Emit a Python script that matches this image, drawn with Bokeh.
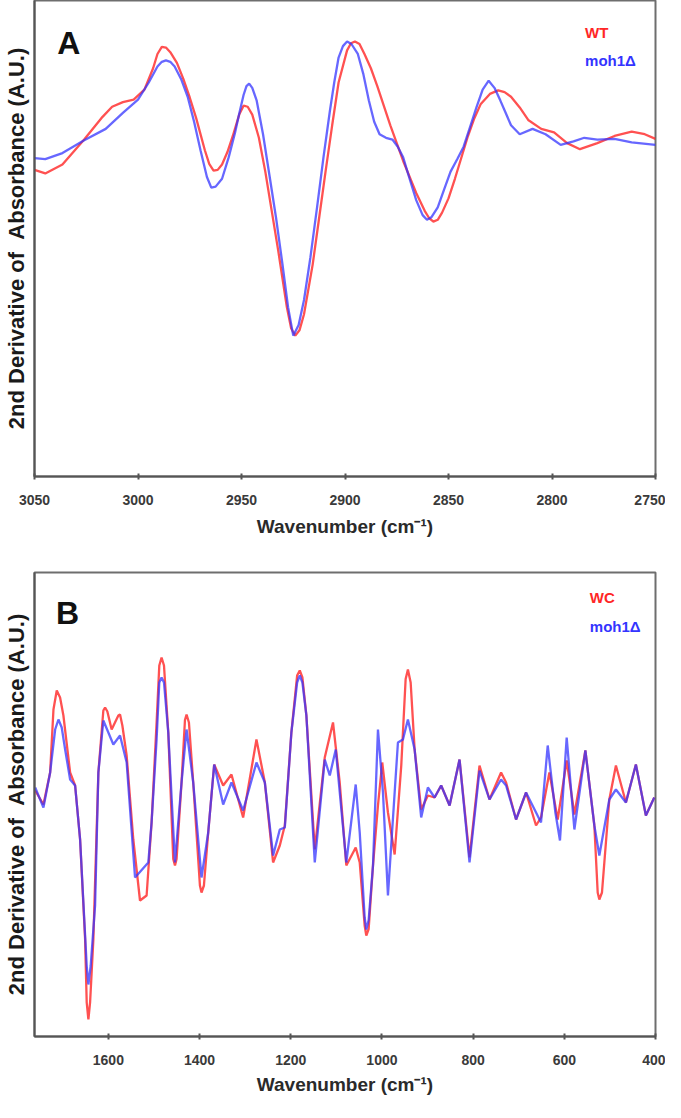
from bokeh.plotting import figure
from bokeh.models import Range1d, FixedTicker, Label
from bokeh.layouts import column
from bokeh.embed import file_html
from bokeh.resources import INLINE

# ---------------- Panel A (C-H stretching region) ----------------
wn_a_wt = [3050.0, 3044.8, 3036.5, 3026.0, 3017.7, 3012.5, 3007.3, 3002.1, 2996.9, 2992.7,
           2990.6, 2988.5, 2986.5, 2984.4, 2981.2, 2978.1, 2975.0, 2971.9, 2967.7, 2965.6,
           2963.5, 2961.5, 2959.4, 2956.8, 2954.2, 2951.1, 2949.0, 2947.0, 2944.8, 2941.6,
           2938.5, 2935.4, 2932.3, 2928.1, 2926.0, 2924.0, 2922.0, 2919.8, 2915.6, 2912.5,
           2909.4, 2906.2, 2903.1, 2899.0, 2897.1, 2895.2, 2893.0, 2890.6, 2887.5, 2884.4,
           2878.1, 2871.9, 2865.6, 2861.5, 2859.4, 2857.3, 2855.2, 2853.1, 2850.0, 2846.9,
           2840.6, 2837.5, 2834.4, 2830.0, 2826.0, 2822.9, 2819.8, 2815.6, 2811.5, 2805.2,
           2799.0, 2792.7, 2786.5, 2778.1, 2769.8, 2761.5, 2755.2, 2750.0]
abs_a_wt = [-0.75, -0.85, -0.60, 0.10, 0.70, 1.02, 1.15, 1.22, 1.50, 2.10,
            2.50, 2.70, 2.68, 2.55, 2.25, 1.80, 1.28, 0.70, -0.20, -0.58,
            -0.77, -0.75, -0.60, -0.25, 0.20, 0.80, 1.05, 1.02, 0.80, 0.15,
            -0.80, -1.90, -3.00, -4.60, -5.20, -5.40, -5.25, -4.80, -3.40, -2.10,
            -0.80, 0.50, 1.70, 2.60, 2.80, 2.85, 2.78, 2.50, 2.10, 1.60,
            0.50, -0.50, -1.40, -1.90, -2.10, -2.20, -2.15, -1.95, -1.55, -1.00,
            0.20, 0.70, 1.10, 1.38, 1.48, 1.43, 1.30, 1.00, 0.65, 0.40,
            0.30, 0.00, -0.17, 0.00, 0.20, 0.32, 0.25, 0.12]

wn_a_moh = [3050.0, 3044.8, 3036.5, 3026.0, 3015.6, 3007.3, 3000.0, 2994.8, 2990.6, 2988.5,
            2986.5, 2984.4, 2982.3, 2979.2, 2976.0, 2972.9, 2969.8, 2966.7, 2964.6, 2962.5,
            2959.4, 2956.2, 2953.1, 2951.0, 2949.0, 2947.6, 2946.3, 2944.8, 2942.7, 2939.6,
            2936.5, 2933.3, 2930.2, 2927.5, 2925.0, 2922.4, 2919.8, 2916.7, 2913.5, 2910.4,
            2907.3, 2905.2, 2903.1, 2901.0, 2899.0, 2896.9, 2893.8, 2891.2, 2888.5, 2885.9,
            2883.3, 2880.2, 2877.1, 2874.5, 2871.9, 2868.8, 2865.6, 2862.5, 2860.4, 2858.3,
            2855.2, 2852.1, 2849.0, 2845.8, 2842.7, 2839.6, 2836.5, 2833.5, 2830.6, 2827.8,
            2825.0, 2822.4, 2819.8, 2815.6, 2809.4, 2803.1, 2795.8, 2789.6, 2784.4, 2778.1,
            2769.8, 2761.5, 2750.0]
abs_a_moh = [-0.42, -0.45, -0.28, 0.08, 0.40, 0.85, 1.22, 1.70, 2.15, 2.28,
             2.32, 2.28, 2.15, 1.80, 1.30, 0.60, -0.20, -0.95, -1.25, -1.22,
             -1.00, -0.40, 0.30, 0.85, 1.35, 1.60, 1.67, 1.55, 1.20, 0.25,
             -0.90, -2.10, -3.40, -4.60, -5.40, -5.10, -4.40, -3.20, -1.80, -0.40,
             0.90, 1.70, 2.40, 2.72, 2.85, 2.78, 2.50, 1.95, 1.20, 0.60,
             0.25, 0.15, 0.10, -0.10, -0.40, -1.00, -1.60, -2.02, -2.15, -2.08,
             -1.80, -1.30, -0.80, -0.45, -0.10, 0.45, 1.00, 1.50, 1.75, 1.55,
             1.20, 0.85, 0.50, 0.25, 0.40, 0.25, -0.05, 0.05, 0.15, 0.10,
             0.12, 0.02, -0.05]

# ---------------- Panel B (fingerprint region) ----------------
wn_b_wc = [1760.5, 1742.4, 1727.7, 1720.4, 1713.2, 1705.9, 1698.6, 1683.9, 1672.9, 1662.0,
           1651.0, 1647.5, 1643.8, 1640.1, 1632.9, 1621.9, 1611.0, 1607.2, 1602.2, 1592.8,
           1578.1, 1574.4, 1569.3, 1559.9, 1545.3, 1530.6, 1516.1, 1505.2, 1494.2, 1488.3,
           1483.3, 1478.0, 1468.6, 1457.7, 1453.9, 1450.4, 1439.5, 1432.0, 1428.5, 1423.3,
           1413.9, 1399.2, 1395.7, 1390.4, 1381.0, 1367.9, 1348.2, 1330.0, 1304.4, 1275.2,
           1256.8, 1238.7, 1224.0, 1213.0, 1198.6, 1186.0, 1180.2, 1174.4, 1165.7, 1147.3,
           1125.4, 1107.3, 1092.6, 1078.1, 1057.5, 1048.7, 1037.9, 1034.3, 1029.1, 1019.6,
           1008.7, 999.3, 986.8, 972.1, 957.6, 948.0, 943.0, 937.0, 928.3, 913.9,
           899.2, 884.5, 870.1, 851.6, 829.8, 807.9, 786.0, 764.1, 738.7, 727.7,
           705.8, 683.9, 662.0, 651.1, 632.7, 614.5, 594.8, 577.9, 553.8, 534.1,
           526.8, 523.2, 517.4, 501.3, 486.8, 464.9, 443.0, 421.1, 402.7]
abs_b_wc = [0.04, -0.24, 0.40, 1.66, 2.04, 1.90, 1.54, 0.40, 0.14, -0.94,
            -2.94, -4.20, -4.54, -4.20, -2.94, 0.40, 1.64, 1.70, 1.62, 1.26,
            1.54, 1.56, 1.34, 0.74, -0.94, -2.16, -2.06, -0.60, 1.40, 2.54,
            2.70, 2.54, 1.20, -1.33, -1.46, -1.33, 0.20, 1.45, 1.56, 1.40,
            0.20, -1.86, -2.00, -1.86, -0.80, 0.56, 0.14, 0.36, -0.50, 1.06,
            0.20, -1.40, -1.06, -0.66, 1.20, 2.34, 2.44, 2.30, 1.54, -1.14,
            0.70, 1.40, 0.20, -1.46, -1.10, -1.40, -2.66, -2.86, -2.73, -1.46,
            -0.26, 0.60, -0.40, -1.24, 0.54, 2.27, 2.46, 2.20, 0.86, -0.34,
            -0.06, -0.10, 0.14, -0.26, 0.66, -1.30, 0.54, -0.14, 0.40, 0.20,
            -0.54, 0.00, -0.66, -0.50, 0.40, -0.54, 0.64, -0.44, 0.84, -0.66,
            -2.00, -2.14, -2.00, -0.14, 0.54, -0.20, 0.56, -0.46, -0.10]

wn_b_moh = [1760.5, 1742.4, 1727.7, 1716.7, 1709.5, 1702.3, 1694.8, 1683.9, 1672.9, 1662.0,
            1647.5, 1643.8, 1638.8, 1629.1, 1621.9, 1611.0, 1589.1, 1574.4, 1559.9, 1541.5,
            1512.4, 1505.2, 1494.2, 1488.3, 1483.3, 1478.0, 1468.6, 1453.9, 1439.5, 1428.5,
            1413.9, 1395.7, 1381.0, 1367.9, 1348.2, 1330.0, 1304.4, 1275.2, 1256.8, 1238.7,
            1224.0, 1213.0, 1198.6, 1186.0, 1180.2, 1174.4, 1165.7, 1147.3, 1125.4, 1114.4,
            1101.3, 1078.1, 1057.5, 1048.7, 1037.9, 1034.3, 1029.1, 1019.6, 1008.7, 997.7,
            986.8, 972.1, 964.9, 953.9, 943.0, 928.3, 913.9, 899.2, 884.5, 870.1,
            851.6, 829.8, 807.9, 786.0, 764.1, 738.7, 727.7, 705.8, 683.9, 662.0,
            651.1, 636.4, 619.6, 609.5, 594.8, 577.9, 553.8, 534.1, 523.2, 501.3,
            486.8, 464.9, 443.0, 421.1, 402.7]
abs_b_moh = [0.10, -0.30, 0.40, 1.26, 1.46, 1.30, 0.86, 0.26, 0.14, -0.94,
             -3.47, -3.84, -3.47, -2.26, 0.40, 1.44, 0.96, 1.14, 0.60, -1.70,
             -1.40, -0.60, 1.06, 2.20, 2.30, 2.20, 1.20, -1.40, 0.20, 1.26,
             0.20, -1.70, -0.80, 0.56, -0.24, 0.20, -0.36, 0.60, 0.20, -1.26,
             -0.74, -0.70, 1.20, 2.20, 2.34, 2.20, 1.54, -1.40, 0.66, 0.34,
             0.86, -1.40, 0.16, -0.80, -2.50, -2.74, -2.55, -1.46, 1.26, 0.00,
             -2.06, 0.00, 1.00, 1.06, 1.46, 0.86, -0.50, 0.10, -0.10, 0.14,
             -0.26, 0.66, -1.40, 0.44, -0.14, 0.26, 0.14, -0.54, 0.00, -0.40,
             -0.60, 0.94, -0.40, -0.96, 1.10, -0.74, 0.84, -0.66, -1.26, -0.14,
             0.06, -0.20, 0.56, -0.46, -0.10]

ticks_a = [3050, 3000, 2950, 2900, 2850, 2800, 2750]
ticks_b = [1600, 1400, 1200, 1000, 800, 600, 400]
names_a = ["WT", "moh1\u0394"]
names_b = ["WC", "moh1\u0394"]

RED = "#ff2626"
BLUE = "#3434ff"
FONT = "Liberation Sans"
YLABEL = "2nd Derivative of \u00a0Absorbance (A.U.)"
XLABEL = "Wavenumber (cm\u207b\u00b9)"


def panel(height, x_rng, y_rng, ticks, mb_top, mb_bottom, mb_right,
          lbl_std, title_std):
    p = figure(width=665, height=height, output_backend="svg",
               toolbar_location=None, x_range=Range1d(*x_rng),
               y_range=Range1d(*y_rng), tools="")
    p.min_border_left = 33
    p.min_border_right = mb_right
    p.min_border_top = mb_top
    p.min_border_bottom = mb_bottom
    p.background_fill_color = "white"
    p.border_fill_color = "white"
    p.outline_line_color = "#6e6e6e"
    p.outline_line_width = 2
    p.xgrid.visible = False
    p.ygrid.visible = False

    xa = p.xaxis[0]
    xa.ticker = FixedTicker(ticks=ticks)
    xa.minor_tick_line_color = None
    xa.major_tick_in = 3
    xa.major_tick_out = 3
    xa.major_tick_line_color = "#555555"
    xa.major_tick_line_width = 2
    xa.axis_line_color = "#555555"
    xa.axis_line_width = 2
    xa.major_label_text_font = FONT
    xa.major_label_text_font_style = "bold"
    xa.major_label_text_font_size = "14px"
    xa.major_label_text_color = "#3a3a3a"
    xa.major_label_standoff = lbl_std
    xa.axis_label = XLABEL
    xa.axis_label_text_font = FONT
    xa.axis_label_text_font_style = "bold"
    xa.axis_label_text_font_size = "19px"
    xa.axis_label_text_color = "#2a2a2a"
    xa.axis_label_standoff = title_std

    ya = p.yaxis[0]
    ya.ticker = FixedTicker(ticks=[])
    ya.minor_tick_line_color = None
    ya.major_tick_line_color = None
    ya.major_label_text_font_size = "0px"
    ya.axis_line_color = "#555555"
    ya.axis_line_width = 2
    ya.axis_label = YLABEL
    ya.axis_label_text_font = FONT
    ya.axis_label_text_font_style = "bold"
    ya.axis_label_text_font_size = "22px"
    ya.axis_label_text_color = "#1a1a1a"
    ya.axis_label_standoff = 6
    return p


# Panel A : frame 624 x 476 px, bottom border 72  (page y 8 .. 556)
pa = panel(548, (3050, 2750), (-9.35, 4.0), ticks_a, 0, 72, 8, 15, 8)
pa.line(wn_a_wt, abs_a_wt, line_color=RED, line_width=2.3, line_alpha=0.8)
pa.line(wn_a_moh, abs_a_moh, line_color=BLUE, line_width=2.3, line_alpha=0.75)
pa.add_layout(Label(x=3039, y=3.30, text="A", text_font=FONT, text_font_size="32px",
                    text_font_style="bold", text_color="#111111",
                    text_align="left", text_baseline="top"))
pa.add_layout(Label(x=2784, y=3.10, text=names_a[0], text_font=FONT, text_font_size="15px",
                    text_font_style="bold", text_color=RED,
                    text_align="left", text_baseline="middle"))
pa.add_layout(Label(x=2784, y=2.32, text=names_a[1], text_font=FONT, text_font_size="15px",
                    text_font_style="bold", text_color=BLUE,
                    text_align="left", text_baseline="middle"))

# Panel B : top border 24, frame 622 x 464, bottom border 66  (page y 556 .. 1110)
pb = panel(554, (1762, 400), (-4.88, 4.4), ticks_b, 24, 66, 10, 15, 6)
pb.line(wn_b_wc, abs_b_wc, line_color=RED, line_width=2.3, line_alpha=0.8)
pb.line(wn_b_moh, abs_b_moh, line_color=BLUE, line_width=2.3, line_alpha=0.75)
pb.add_layout(Label(x=1715, y=3.96, text="B", text_font=FONT, text_font_size="32px",
                    text_font_style="bold", text_color="#111111",
                    text_align="left", text_baseline="top"))
pb.add_layout(Label(x=544, y=3.90, text=names_b[0], text_font=FONT, text_font_size="15px",
                    text_font_style="bold", text_color=RED,
                    text_align="left", text_baseline="middle"))
pb.add_layout(Label(x=544, y=3.32, text=names_b[1], text_font=FONT, text_font_size="15px",
                    text_font_style="bold", text_color=BLUE,
                    text_align="left", text_baseline="middle"))

layout = column(pa, pb, spacing=0)
open("out.html", "w").write(file_html(layout, INLINE))
